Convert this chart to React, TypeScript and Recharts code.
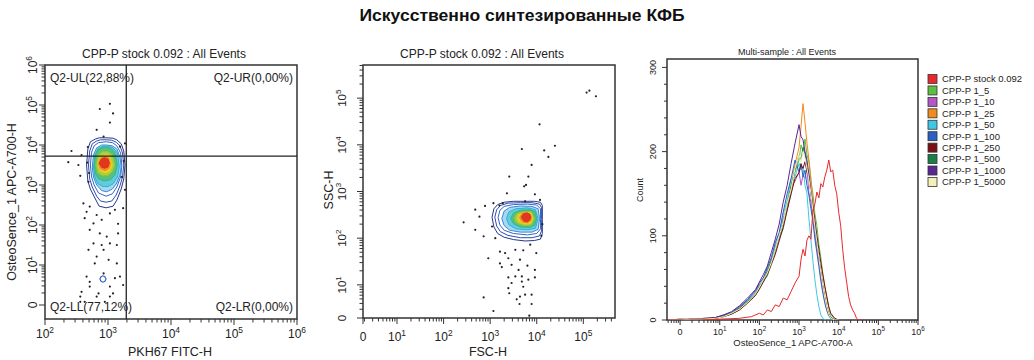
import React from 'react';
import { ComposedChart, XAxis, YAxis, Area, Scatter, Line, ReferenceLine, ReferenceArea } from 'recharts';

const FONT = '"Liberation Sans", Arial, sans-serif';
const W = 1034;
const H = 360;
const INK = '#222';

// ---- panel 1: PKH67 FITC-H vs OsteoSence_1 APC-A700-H (values in log decades)
const p1XMajor = [2, 3, 4, 5, 6];
const p1XLabels = ['10^2', '10^3', '10^4', '10^5', '10^6'];
const p1YMajor = [0, 1, 2, 3, 4, 5, 6];
const p1YLabels = ['0', '10^1', '10^2', '10^3', '10^4', '10^5', '10^6'];
const p1GateX = 3.29;
const p1GateY = 3.72;
const p1Quadrants = ['Q2-UL(22,88%)', 'Q2-UR(0,00%)', 'Q2-LL(77,12%)', 'Q2-LR(0,00%)'];

// contour levels, outer -> inner: [x, low, high]
const p1Contours: number[][][] = [
  [[2.66, 3.5, 3.5], [2.68, 3.1, 3.9], [2.72, 2.9, 4.08], [2.8, 2.65, 4.15], [2.86, 2.47, 4.18], [2.97, 2.43, 4.18], [3.08, 2.47, 4.17], [3.14, 2.62, 4.13], [3.21, 2.9, 4.03], [3.25, 3.15, 3.85], [3.27, 3.5, 3.5]],
  [[2.69, 3.5, 3.5], [2.71, 3.15, 3.85], [2.75, 2.95, 4.03], [2.82, 2.72, 4.1], [2.88, 2.6, 4.13], [2.97, 2.57, 4.13], [3.06, 2.6, 4.12], [3.13, 2.75, 4.07], [3.19, 2.98, 3.98], [3.23, 3.2, 3.8], [3.25, 3.5, 3.5]],
  [[2.72, 3.5, 3.5], [2.74, 3.2, 3.82], [2.78, 3.0, 3.98], [2.85, 2.8, 4.06], [2.97, 2.72, 4.08], [3.07, 2.78, 4.06], [3.14, 2.95, 3.98], [3.2, 3.2, 3.8], [3.22, 3.5, 3.5]],
  [[2.75, 3.45, 3.45], [2.77, 3.2, 3.75], [2.82, 3.0, 3.93], [2.9, 2.86, 4.0], [2.98, 2.83, 4.0], [3.07, 2.9, 3.98], [3.14, 3.05, 3.9], [3.19, 3.25, 3.7], [3.21, 3.45, 3.45]],
  [[2.77, 3.45, 3.45], [2.79, 3.2, 3.74], [2.84, 3.03, 3.91], [2.92, 2.96, 3.97], [3.0, 2.96, 3.97], [3.08, 3.03, 3.93], [3.15, 3.2, 3.8], [3.18, 3.45, 3.45]],
  [[2.78, 3.5, 3.5], [2.8, 3.28, 3.76], [2.85, 3.15, 3.9], [2.94, 3.1, 3.95], [3.04, 3.13, 3.92], [3.11, 3.25, 3.82], [3.15, 3.5, 3.5]],
  [[2.81, 3.5, 3.5], [2.84, 3.3, 3.74], [2.91, 3.23, 3.84], [3.0, 3.24, 3.84], [3.07, 3.33, 3.74], [3.11, 3.5, 3.5]],
  [[2.84, 3.5, 3.5], [2.87, 3.36, 3.68], [2.95, 3.3, 3.76], [3.02, 3.33, 3.74], [3.07, 3.5, 3.5]],
  [[2.85, 3.52, 3.52], [2.88, 3.4, 3.66], [2.95, 3.36, 3.72], [3.01, 3.4, 3.68], [3.04, 3.52, 3.52]],
  [[2.86, 3.55, 3.55], [2.9, 3.44, 3.66], [2.95, 3.42, 3.68], [3.0, 3.45, 3.65], [3.02, 3.55, 3.55]],
];
const p1SmallContour = [[2.87, 0.65, 0.65], [2.89, 0.59, 0.71], [2.92, 0.57, 0.73], [2.95, 0.59, 0.71], [2.97, 0.65, 0.65]];

const p1Dots = [
  [3.03, 5.03], [2.87, 4.9], [3.08, 4.79], [3.03, 4.56], [2.82, 4.38], [2.93, 4.21], [2.42, 3.85], [2.58, 3.75],
  [2.37, 3.57], [2.53, 3.5], [2.67, 3.56], [2.56, 3.23], [2.69, 3.08], [3.27, 2.88], [3.27, 4.04], [3.19, 3.96],
  [2.61, 2.54], [2.66, 2.33], [2.71, 2.46], [3.11, 2.38], [2.82, 2.25], [2.63, 2.17], [2.9, 2.13], [3.03, 2.29],
  [3.24, 2.42], [2.77, 2.04], [3.16, 2.03], [2.71, 1.88], [2.87, 1.79], [2.98, 1.71], [3.16, 1.79], [2.77, 1.54],
  [2.9, 1.5], [3.03, 1.54], [3.14, 1.5], [2.69, 1.38], [2.93, 1.38], [2.82, 1.21], [3.01, 1.13], [2.79, 1.04],
  [3.14, 1.04], [2.93, 0.79], [3.11, 0.67], [3.19, 0.71], [2.66, 0.71], [2.71, 0.58], [2.58, 0.33], [2.56, 0.21],
  [2.71, 0.46], [2.85, 0.29], [3.03, 0.46], [3.08, 0.29], [3.24, 0.5], [3.03, 0.21], [2.82, 0.21], [2.95, 0.08],
  [2.63, 0.08], [2.56, 0.08], [2.68, 3.95], [3.22, 3.2], [3.25, 3.6], [2.7, 3.3],
];

// ---- panel 2: FSC-H vs SSC-H
const p2XMajor = [0.27, 1, 2, 3, 4, 5];
const p2YMajor = [0.29, 1, 2, 3, 4, 5];
const p2Labels = ['0', '10^1', '10^2', '10^3', '10^4', '10^5'];

const p2Contours: number[][][] = [
  [[3.04, 2.45, 2.45], [3.08, 2.24, 2.63], [3.16, 2.1, 2.72], [3.3, 2.02, 2.77], [3.5, 1.97, 2.79], [3.75, 1.94, 2.79], [3.95, 1.95, 2.79], [4.08, 1.98, 2.77], [4.12, 2.1, 2.7], [4.12, 2.4, 2.4]],
  [[3.1, 2.45, 2.45], [3.14, 2.26, 2.61], [3.22, 2.14, 2.7], [3.38, 2.06, 2.75], [3.65, 2.01, 2.76], [3.9, 2.01, 2.76], [4.06, 2.05, 2.73], [4.1, 2.15, 2.66], [4.1, 2.4, 2.4]],
  [[3.17, 2.44, 2.44], [3.21, 2.28, 2.6], [3.3, 2.17, 2.68], [3.5, 2.1, 2.72], [3.8, 2.07, 2.73], [4.0, 2.1, 2.71], [4.08, 2.2, 2.63], [4.08, 2.42, 2.42]],
  [[3.25, 2.42, 2.42], [3.3, 2.27, 2.58], [3.42, 2.17, 2.66], [3.65, 2.13, 2.69], [3.9, 2.13, 2.68], [4.03, 2.19, 2.63], [4.06, 2.42, 2.42]],
  [[3.35, 2.42, 2.42], [3.4, 2.29, 2.56], [3.55, 2.2, 2.63], [3.8, 2.18, 2.65], [3.97, 2.21, 2.61], [4.03, 2.42, 2.42]],
  [[3.44, 2.42, 2.42], [3.5, 2.31, 2.54], [3.65, 2.24, 2.6], [3.85, 2.23, 2.61], [3.96, 2.28, 2.57], [4.0, 2.42, 2.42]],
  [[3.52, 2.42, 2.42], [3.57, 2.32, 2.53], [3.72, 2.27, 2.57], [3.88, 2.28, 2.57], [3.95, 2.42, 2.42]],
  [[3.58, 2.43, 2.43], [3.63, 2.34, 2.52], [3.76, 2.3, 2.55], [3.88, 2.32, 2.54], [3.92, 2.43, 2.43]],
  [[3.63, 2.44, 2.44], [3.68, 2.35, 2.53], [3.78, 2.33, 2.54], [3.86, 2.36, 2.52], [3.89, 2.44, 2.44]],
  [[3.67, 2.45, 2.45], [3.72, 2.37, 2.53], [3.8, 2.35, 2.54], [3.85, 2.39, 2.51], [3.87, 2.45, 2.45]],
];

const p2Dots = [
  [5.07, 5.12], [5.13, 5.16], [5.27, 5.04], [4.06, 4.44], [3.68, 3.91], [4.16, 3.88], [4.39, 3.98], [4.25, 3.74],
  [3.89, 3.57], [3.41, 3.32], [3.82, 3.32], [3.73, 3.11], [3.77, 3.14], [3.36, 2.96], [3.96, 2.94], [4.07, 2.82],
  [3.07, 2.75], [2.89, 2.69], [3.27, 2.75], [2.68, 2.61], [2.77, 2.46], [2.68, 2.18], [2.86, 2.04], [2.43, 2.34],
  [3.04, 2.25], [3.11, 2.0], [2.96, 1.57], [3.21, 1.71], [3.32, 1.68], [3.54, 1.75], [3.71, 1.74], [3.39, 1.57],
  [3.64, 1.54], [3.25, 1.38], [3.46, 1.43], [3.61, 1.32], [3.8, 1.41], [3.99, 1.68], [3.86, 1.86], [3.21, 1.46],
  [3.54, 1.18], [3.68, 1.18], [3.96, 1.32], [3.96, 1.16], [3.39, 1.16], [3.46, 1.04], [3.68, 1.07], [3.82, 1.11],
  [3.71, 0.96], [3.64, 0.75], [3.39, 0.93], [2.86, 0.73], [3.41, 0.82], [3.57, 0.69], [3.75, 0.79], [3.89, 0.79],
  [3.63, 0.59], [3.89, 0.59], [3.07, 0.44], [3.84, 0.34], [4.12, 2.3], [3.75, 2.79], [4.1, 2.05], [3.2, 2.7],
];

const contourStroke = ['#27358c', '#2d4cae', '#3466c6', '#3a88d6', '#2eb0d6', '#2fb88c', '#8cc63f', '#e4cd1e', '#ee8a26', '#de311f'];
const contourFill = ['none', 'none', 'none', '#a8d8f0', '#62cbe0', '#58c07a', '#a8d042', '#f1d31f', '#f2902b', '#e2371f'];

// ---- panel 3: histogram overlay
const p3XMajor = [0, 1, 2, 3, 4, 5, 6];
const p3XLabels = ['0', '10^1', '10^2', '10^3', '10^4', '10^5', '10^6'];
const p3YMajor = [0, 100, 200, 300];
const p3YLabels = ['0', '100', '200', '300'];
const p3YMinor = [20, 40, 60, 80, 120, 140, 160, 180, 220, 240, 260, 280];

const sampleNames = ['CPP-P stock 0.092', 'CPP-P 1_5', 'CPP-P 1_10', 'CPP-P 1_25', 'CPP-P 1_50', 'CPP-P 1_100', 'CPP-P 1_250', 'CPP-P 1_500', 'CPP-P 1_1000', 'CPP-P 1_5000'];
const sampleColors = ['#e8282c', '#5cbf3f', '#b455c8', '#f28a1e', '#3fc8e4', '#2a5fc4', '#7a1016', '#1a7f46', '#5b2596', '#f5efb8'];

const stockX = [-0.3, 0, 0.5, 1.0, 1.5, 1.8, 2.0, 2.1, 2.2, 2.3, 2.4, 2.5, 2.6, 2.7, 2.8, 2.9, 3.0, 3.05, 3.1, 3.15, 3.2, 3.25, 3.3, 3.35, 3.4, 3.45, 3.5, 3.55, 3.6, 3.65, 3.7, 3.75, 3.8, 3.85, 3.9, 3.95, 4.0, 4.05, 4.1, 4.15, 4.2, 4.25, 4.3, 4.35, 4.4, 4.45, 4.5, 4.6];
const stockCount = [0, 0, 0, 1, 2, 4, 8, 6, 12, 10, 18, 16, 26, 24, 34, 44, 52, 72, 84, 76, 95, 100, 96, 130, 138, 152, 145, 162, 158, 170, 178, 190, 176, 178, 160, 150, 128, 112, 84, 62, 45, 28, 18, 12, 8, 2, 0, 0];

const dilX = [-0.3, 0, 0.3, 0.6, 0.9, 1.1, 1.3, 1.5, 1.7, 1.9, 2.0, 2.1, 2.2, 2.3, 2.4, 2.5, 2.6, 2.7, 2.8, 2.9, 3.0, 3.05, 3.1, 3.15, 3.2, 3.25, 3.3, 3.35, 3.4, 3.45, 3.5, 3.55, 3.6, 3.65, 3.7, 3.75, 3.8, 3.9, 4.0];
const dil5 = [0, 0, 1, 0, 2, 4, 7, 12, 20, 30, 36, 47, 52, 66, 80, 97, 108, 132, 150, 176, 190, 208, 200, 215, 196, 188, 165, 150, 126, 112, 90, 74, 55, 40, 26, 14, 6, 1, 0];
const dil10 = [0, 1, 0, 2, 3, 5, 9, 15, 24, 33, 42, 46, 60, 68, 88, 96, 122, 130, 158, 165, 176, 160, 172, 168, 180, 150, 140, 118, 100, 86, 70, 52, 38, 24, 14, 7, 2, 0, 0];
const dil25 = [0, 0, 1, 1, 2, 5, 8, 13, 21, 31, 39, 50, 57, 72, 84, 101, 115, 140, 158, 185, 205, 230, 257, 235, 210, 190, 168, 140, 118, 95, 76, 58, 42, 28, 16, 8, 3, 0, 0];
const dil50 = [0, 0, 0, 1, 3, 4, 8, 14, 23, 33, 41, 49, 60, 70, 90, 102, 125, 142, 168, 170, 186, 178, 182, 160, 150, 120, 95, 70, 48, 30, 16, 6, 2, 0, 0, 0, 0, 0, 0];
const dil100 = [0, 0, 1, 1, 3, 6, 9, 16, 24, 35, 44, 50, 62, 74, 92, 104, 128, 150, 168, 190, 176, 186, 170, 178, 160, 148, 132, 118, 96, 80, 64, 46, 32, 20, 11, 5, 2, 0, 0];
const dil250 = [0, 0, 0, 1, 2, 4, 7, 12, 20, 29, 37, 45, 54, 66, 78, 94, 110, 130, 150, 168, 175, 185, 180, 188, 176, 168, 150, 135, 118, 100, 84, 68, 54, 40, 28, 16, 8, 2, 0];
const dil500 = [0, 1, 1, 2, 3, 5, 8, 14, 22, 31, 40, 47, 57, 70, 84, 98, 116, 136, 160, 178, 196, 190, 205, 198, 182, 172, 150, 130, 112, 92, 74, 56, 40, 26, 15, 7, 3, 0, 0];
const dil1000 = [0, 0, 1, 1, 3, 6, 10, 17, 26, 36, 45, 54, 64, 80, 96, 114, 140, 160, 186, 210, 232, 218, 214, 200, 190, 172, 152, 132, 112, 90, 72, 55, 38, 25, 14, 7, 2, 0, 0];
const dil5000 = [0, 0, 1, 1, 2, 4, 8, 13, 21, 31, 39, 48, 56, 68, 84, 100, 116, 138, 156, 180, 196, 188, 200, 192, 180, 166, 150, 130, 110, 92, 74, 56, 40, 26, 15, 7, 2, 0, 0];

const dilutions = [dil5, dil10, dil25, dil50, dil100, dil250, dil500, dil1000, dil5000];

const minors = (lo: number, hi: number) => {
  const out: number[] = [];
  for (let n = -1; n <= 6; n++) {
    for (let k = 2; k <= 9; k++) {
      const v = n + Math.log10(k);
      if (v > lo && v < hi) out.push(v);
    }
  }
  return out;
};

const toRange = (pts: number[][]) => pts.map(([x, lo, hi]) => ({ x, r: [lo, hi] }));
const toDots = (pts: number[][]) => pts.map(([x, y]) => ({ x, y }));

function TickLabel({ x, y, label, fs, rotate }: { x: number; y: number; label: string; fs: number; rotate?: boolean }) {
  const [base, sup] = label.split('^');
  return (
    <text
      x={x}
      y={y}
      textAnchor="middle"
      fontSize={fs}
      fill={INK}
      fontFamily={FONT}
      transform={rotate ? `rotate(-90, ${x}, ${y})` : undefined}
    >
      {base}
      {sup && (
        <tspan dy={-fs * 0.45} fontSize={fs * 0.7}>
          {sup}
        </tspan>
      )}
    </text>
  );
}

type TickOpts = { len: number; minorLen: number; gap: number; fs: number };

const bottomTick = (major: number[], labels: string[], o: TickOpts) => (props: any) => {
  const { x, y, payload } = props;
  const i = major.indexOf(payload.value);
  return (
    <g>
      <line x1={x} x2={x} y1={y} y2={y + (i >= 0 ? o.len : o.minorLen)} stroke="#333" />
      {i >= 0 && <TickLabel x={x} y={y + o.gap} label={labels[i]} fs={o.fs} />}
    </g>
  );
};

const leftTick = (major: number[], labels: string[], o: TickOpts) => (props: any) => {
  const { x, y, payload } = props;
  const i = major.indexOf(payload.value);
  return (
    <g>
      <line x1={x} x2={x - (i >= 0 ? o.len : o.minorLen)} y1={y} y2={y} stroke="#333" />
      {i >= 0 && <TickLabel x={x - o.gap} y={y} label={labels[i]} fs={o.fs} rotate />}
    </g>
  );
};

const dot = (p: any) => <circle cx={p.cx} cy={p.cy} r={1.1} fill={INK} />;

function contourAreas(levels: number[][][]) {
  return levels.map((lv, i) => (
    <Area
      key={'c' + i}
      data={toRange(lv)}
      dataKey="r"
      type="linear"
      stroke={contourStroke[i]}
      strokeWidth={1}
      fill={contourFill[i]}
      fillOpacity={1}
      isAnimationActive={false}
      dot={false}
      activeDot={false}
    />
  ));
}

// axes are given a real size (recharts skips a 0-sized axis), margins make up the rest
const XH = 30;
const YW = 40;

function Panel1() {
  const xd = [2, 6];
  const yd = [-0.35, 6];
  return (
    <ComposedChart width={W} height={H} margin={{ top: 65, left: 45 - YW, right: W - 297, bottom: H - 319 - XH }}>
      <XAxis
        type="number" dataKey="x" domain={xd} allowDataOverflow height={XH}
        ticks={[...p1XMajor, ...minors(2, 6)]} interval={0}
        tickSize={0} tickMargin={0} tickLine={false} axisLine={false}
        tick={bottomTick(p1XMajor, p1XLabels, { len: 6, minorLen: 3.5, gap: 19, fs: 12 })}
      />
      <YAxis
        type="number" domain={yd} allowDataOverflow width={YW}
        ticks={[...p1YMajor, ...minors(0, 6)]} interval={0}
        tickSize={0} tickMargin={0} tickLine={false} axisLine={false}
        tick={leftTick(p1YMajor, p1YLabels, { len: 6, minorLen: 3.5, gap: 8, fs: 12 })}
      />
      {contourAreas(p1Contours)}
      <Area data={toRange(p1SmallContour)} dataKey="r" type="linear" stroke="#3a5fc0" strokeWidth={1.2} fill="none" isAnimationActive={false} dot={false} activeDot={false} />
      <Scatter data={toDots(p1Dots)} dataKey="y" shape={dot} isAnimationActive={false} />
      <ReferenceLine x={p1GateX} stroke={INK} strokeWidth={1.3} />
      <ReferenceLine y={p1GateY} stroke={INK} strokeWidth={1.3} />
      <ReferenceArea x1={xd[0]} x2={xd[1]} y1={yd[0]} y2={yd[1]} fill="none" stroke="#333" strokeWidth={1.5} />
    </ComposedChart>
  );
}

function Panel2() {
  const xd = [0.27, 5.68];
  const yd = [0.29, 5.71];
  return (
    <ComposedChart width={W} height={H} margin={{ top: 65, left: 363 - YW, right: W - 615, bottom: H - 318 - XH }}>
      <XAxis
        type="number" dataKey="x" domain={xd} allowDataOverflow height={XH}
        ticks={[...p2XMajor, ...minors(0.3, 5.68)]} interval={0}
        tickSize={0} tickMargin={0} tickLine={false} axisLine={false}
        tick={bottomTick(p2XMajor, p2Labels, { len: 6, minorLen: 3.5, gap: 23, fs: 12 })}
      />
      <YAxis
        type="number" domain={yd} allowDataOverflow width={YW}
        ticks={[...p2YMajor, ...minors(0.32, 5.71)]} interval={0}
        tickSize={0} tickMargin={0} tickLine={false} axisLine={false}
        tick={leftTick(p2YMajor, p2Labels, { len: 6, minorLen: 3.5, gap: 17, fs: 11.5 })}
      />
      {contourAreas(p2Contours)}
      <Scatter data={toDots(p2Dots)} dataKey="y" shape={dot} isAnimationActive={false} />
      <ReferenceArea x1={xd[0]} x2={xd[1]} y1={yd[0]} y2={yd[1]} fill="none" stroke="#333" strokeWidth={1.5} />
    </ComposedChart>
  );
}

function Panel3() {
  const xd = [-0.33, 6];
  const yd = [0, 310];
  return (
    <ComposedChart width={W} height={H} margin={{ top: 59, left: 667 - YW, right: W - 918, bottom: H - 320 - XH }}>
      <XAxis
        type="number" dataKey="x" domain={xd} allowDataOverflow height={XH}
        ticks={[...p3XMajor, ...minors(-0.33, 6)]} interval={0}
        tickSize={0} tickMargin={0} tickLine={false} axisLine={false}
        tick={bottomTick(p3XMajor, p3XLabels, { len: 5, minorLen: 3, gap: 15, fs: 9 })}
      />
      <YAxis
        type="number" domain={yd} allowDataOverflow width={YW}
        ticks={[...p3YMajor, ...p3YMinor]} interval={0}
        tickSize={0} tickMargin={0} tickLine={false} axisLine={false}
        tick={leftTick(p3YMajor, p3YLabels, { len: 5, minorLen: 3, gap: 11, fs: 9 })}
      />
      {dilutions.map((s, i) => (
        <Line
          key={i}
          data={dilX.map((x, j) => ({ x, c: s[j] }))}
          dataKey="c"
          type="linear"
          stroke={sampleColors[i + 1]}
          strokeWidth={1}
          dot={false}
          activeDot={false}
          isAnimationActive={false}
        />
      ))}
      <Line
        data={stockX.map((x, j) => ({ x, c: stockCount[j] }))}
        dataKey="c"
        type="linear"
        stroke={sampleColors[0]}
        strokeWidth={1}
        dot={false}
        activeDot={false}
        isAnimationActive={false}
      />
      <ReferenceArea x1={xd[0]} x2={xd[1]} y1={yd[0]} y2={yd[1]} fill="none" stroke="#333" strokeWidth={1.5} />
    </ComposedChart>
  );
}

function Texts() {
  const t = { fontFamily: FONT, fill: INK };
  return (
    <svg width={W} height={H} style={{ position: 'absolute', left: 0, top: 0, pointerEvents: 'none' }}>
      <text x={522} y={21} textAnchor="middle" fontSize={17} fontWeight="bold" textLength={325} lengthAdjust="spacingAndGlyphs" style={{ fontFamily: '"Liberation Sans Narrow", "Liberation Sans", Arial, sans-serif' }} fill="#111">
        Искусственно синтезированные КФБ
      </text>

      <text x={164} y={58} textAnchor="middle" fontSize={12} {...t}>CPP-P stock 0.092 : All Events</text>
      <text x={50} y={82} fontSize={12} {...t}>{p1Quadrants[0]}</text>
      <text x={293} y={82} textAnchor="end" fontSize={12} {...t}>{p1Quadrants[1]}</text>
      <text x={50} y={311} fontSize={12} {...t}>{p1Quadrants[2]}</text>
      <text x={293} y={311} textAnchor="end" fontSize={12} {...t}>{p1Quadrants[3]}</text>
      <text x={170} y={356} textAnchor="middle" fontSize={12.5} {...t}>PKH67 FITC-H</text>
      <text x={16} y={202} textAnchor="middle" fontSize={12.5} transform="rotate(-90, 16, 202)" {...t}>OsteoSence_1 APC-A700-H</text>

      <text x={482} y={58} textAnchor="middle" fontSize={12} {...t}>CPP-P stock 0.092 : All Events</text>
      <text x={488} y={356} textAnchor="middle" fontSize={12.5} {...t}>FSC-H</text>
      <text x={333} y={190} textAnchor="middle" fontSize={12.5} transform="rotate(-90, 333, 190)" {...t}>SSC-H</text>

      <text x={787} y={55} textAnchor="middle" fontSize={9} {...t}>Multi-sample : All Events</text>
      <text x={793} y={346} textAnchor="middle" fontSize={9.5} {...t}>OsteoSence_1 APC-A700-A</text>
      <text x={643} y={190} textAnchor="middle" fontSize={9} transform="rotate(-90, 643, 190)" {...t}>Count</text>

      {sampleNames.map((name, i) => {
        const cy = 79 + i * 11.44;
        return (
          <g key={name}>
            <rect x={928} y={cy - 4.5} width={9} height={9} fill={sampleColors[i]} stroke="#333" strokeWidth={0.8} />
            <text x={942} y={cy + 3.3} fontSize={9.5} {...t}>{name}</text>
          </g>
        );
      })}
    </svg>
  );
}

export default function App() {
  return (
    <div style={{ position: 'absolute', left: 0, top: 0, width: W, height: H, background: '#fff' }}>
      <div style={{ position: 'absolute', left: 0, top: 0 }}><Panel1 /></div>
      <div style={{ position: 'absolute', left: 0, top: 0 }}><Panel2 /></div>
      <div style={{ position: 'absolute', left: 0, top: 0 }}><Panel3 /></div>
      <Texts />
    </div>
  );
}
